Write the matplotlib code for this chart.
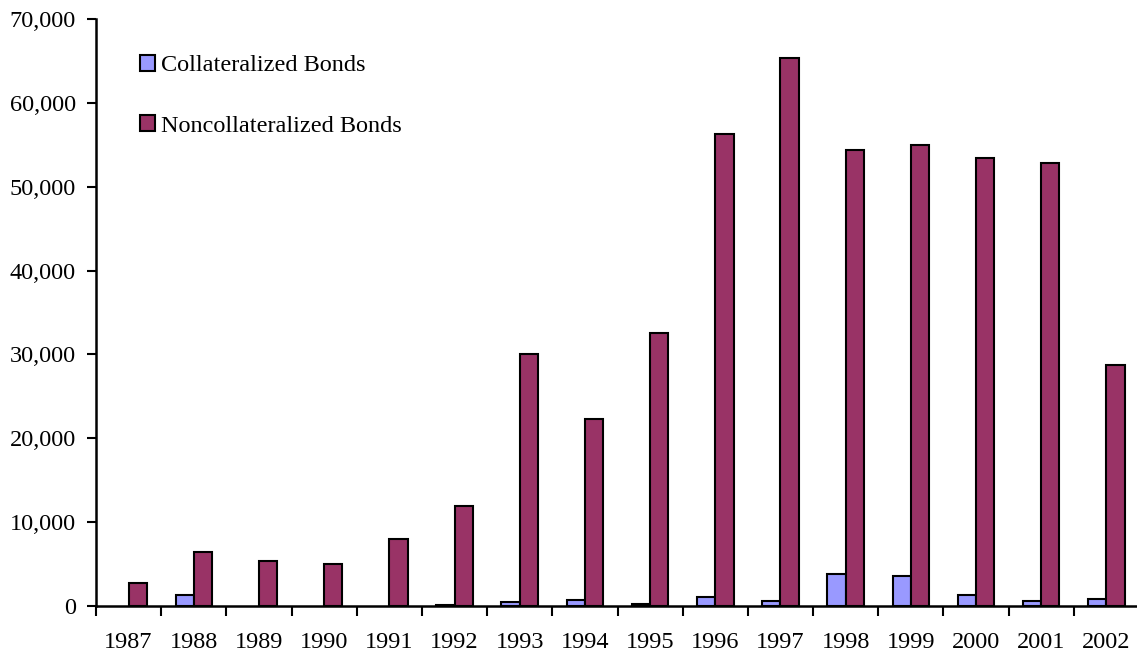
import numpy as np
import matplotlib
matplotlib.use("Agg")
import matplotlib.pyplot as plt
from matplotlib.ticker import FuncFormatter, FixedLocator

plt.rcParams['font.family'] = ['Liberation Serif', 'DejaVu Serif']

years = ["1987", "1988", "1989", "1990", "1991", "1992", "1993", "1994",
         "1995", "1996", "1997", "1998", "1999", "2000", "2001", "2002"]
collateralized = [0, 1300, 0, 0, 0, 60, 440, 750,
                  180, 1040, 560, 3780, 3580, 1310, 600, 830]
noncollateralized = [2800, 6400, 5400, 4950, 8000, 11900, 30050, 22300,
                     32550, 56300, 65400, 54400, 55000, 53400, 52850, 28750]

fig = plt.figure(figsize=(11.37, 6.58), dpi=100)
ax = fig.add_axes([96/1137, 52/658, 1043/1137, 587/658])

x = np.arange(len(years))
w = 0.28
coll = np.array(collateralized, dtype=float)
# empty years get no bar outline on the baseline
coll[coll == 0] = np.nan
ax.bar(x - w/2, coll, w, color="#9999FF", edgecolor="black",
       linewidth=1.5, label="Collateralized Bonds")
ax.bar(x + w/2, noncollateralized, w, color="#993366", edgecolor="black",
       linewidth=1.5, label="Noncollateralized Bonds")

ax.set_xlim(-0.5, len(years) - 0.5)
ax.set_ylim(0, 70000)
ax.set_yticks(np.arange(0, 70001, 10000))
ax.yaxis.set_major_formatter(FuncFormatter(lambda v, p: f"{int(v):,}"))

ax.set_xticks(x)
ax.set_xticklabels(years)
ax.xaxis.set_minor_locator(FixedLocator(np.arange(-0.5, len(years), 1.0)))
ax.tick_params(axis="x", which="major", length=0, pad=19, labelsize=17.5)
ax.tick_params(axis="x", which="minor", length=7, width=1.5, direction="out")
ax.tick_params(axis="y", length=6.5, width=1.5, direction="out", pad=8, labelsize=17.5)

for s in ["top", "right"]:
    ax.spines[s].set_visible(False)
for s in ["left", "bottom"]:
    ax.spines[s].set_linewidth(1.8)

ax.legend(loc="upper left", bbox_to_anchor=(0.033, 0.955), frameon=False,
          fontsize=17.5, handlelength=0.6, handleheight=0.6,
          handletextpad=0.25, labelspacing=1.6, borderaxespad=0)

fig.savefig("out.png", dpi=100)
